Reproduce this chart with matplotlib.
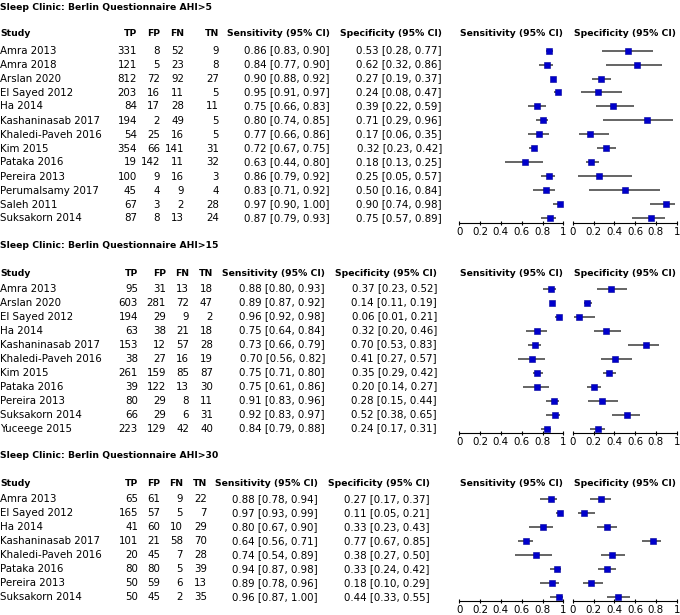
import matplotlib
matplotlib.use("Agg")
import matplotlib.pyplot as plt

plt.rcParams['font.family'] = ['DejaVu Sans']

# ---------------- data ----------------
titles = ["Sleep Clinic: Berlin Questionnaire AHI>5",
          "Sleep Clinic: Berlin Questionnaire AHI>15",
          "Sleep Clinic: Berlin Questionnaire AHI>30"]

studies1 = ["Amra 2013", "Amra 2018", "Arslan 2020", "El Sayed 2012", "Ha 2014",
            "Kashaninasab 2017", "Khaledi-Paveh 2016", "Kim 2015", "Pataka 2016",
            "Pereira 2013", "Perumalsamy 2017", "Saleh 2011", "Suksakorn 2014"]
tp1 = [331, 121, 812, 203, 84, 194, 54, 354, 19, 100, 45, 67, 87]
fp1 = [8, 5, 72, 16, 17, 2, 25, 66, 142, 9, 4, 3, 8]
fn1 = [52, 23, 92, 11, 28, 49, 16, 141, 11, 16, 9, 2, 13]
tn1 = [9, 8, 27, 5, 11, 5, 5, 31, 32, 3, 4, 28, 24]
sens1 = [0.86, 0.84, 0.90, 0.95, 0.75, 0.80, 0.77, 0.72, 0.63, 0.86, 0.83, 0.97, 0.87]
sens1_lo = [0.83, 0.77, 0.88, 0.91, 0.66, 0.74, 0.66, 0.67, 0.44, 0.79, 0.71, 0.90, 0.79]
sens1_hi = [0.90, 0.90, 0.92, 0.97, 0.83, 0.85, 0.86, 0.75, 0.80, 0.92, 0.92, 1.00, 0.93]
spec1 = [0.53, 0.62, 0.27, 0.24, 0.39, 0.71, 0.17, 0.32, 0.18, 0.25, 0.50, 0.90, 0.75]
spec1_lo = [0.28, 0.32, 0.19, 0.08, 0.22, 0.29, 0.06, 0.23, 0.13, 0.05, 0.16, 0.74, 0.57]
spec1_hi = [0.77, 0.86, 0.37, 0.47, 0.59, 0.96, 0.35, 0.42, 0.25, 0.57, 0.84, 0.98, 0.89]

studies2 = ["Amra 2013", "Arslan 2020", "El Sayed 2012", "Ha 2014", "Kashaninasab 2017",
            "Khaledi-Paveh 2016", "Kim 2015", "Pataka 2016", "Pereira 2013",
            "Suksakorn 2014", "Yuceege 2015"]
tp2 = [95, 603, 194, 63, 153, 38, 261, 39, 80, 66, 223]
fp2 = [31, 281, 29, 38, 12, 27, 159, 122, 29, 29, 129]
fn2 = [13, 72, 9, 21, 57, 16, 85, 13, 8, 6, 42]
tn2 = [18, 47, 2, 18, 28, 19, 87, 30, 11, 31, 40]
sens2 = [0.88, 0.89, 0.96, 0.75, 0.73, 0.70, 0.75, 0.75, 0.91, 0.92, 0.84]
sens2_lo = [0.80, 0.87, 0.92, 0.64, 0.66, 0.56, 0.71, 0.61, 0.83, 0.83, 0.79]
sens2_hi = [0.93, 0.92, 0.98, 0.84, 0.79, 0.82, 0.80, 0.86, 0.96, 0.97, 0.88]
spec2 = [0.37, 0.14, 0.06, 0.32, 0.70, 0.41, 0.35, 0.20, 0.28, 0.52, 0.24]
spec2_lo = [0.23, 0.11, 0.01, 0.20, 0.53, 0.27, 0.29, 0.14, 0.15, 0.38, 0.17]
spec2_hi = [0.52, 0.19, 0.21, 0.46, 0.83, 0.57, 0.42, 0.27, 0.44, 0.65, 0.31]

studies3 = ["Amra 2013", "El Sayed 2012", "Ha 2014", "Kashaninasab 2017",
            "Khaledi-Paveh 2016", "Pataka 2016", "Pereira 2013", "Suksakorn 2014"]
tp3 = [65, 165, 41, 101, 20, 80, 50, 50]
fp3 = [61, 57, 60, 21, 45, 80, 59, 45]
fn3 = [9, 5, 10, 58, 7, 5, 6, 2]
tn3 = [22, 7, 29, 70, 28, 39, 13, 35]
sens3 = [0.88, 0.97, 0.80, 0.64, 0.74, 0.94, 0.89, 0.96]
sens3_lo = [0.78, 0.93, 0.67, 0.56, 0.54, 0.87, 0.78, 0.87]
sens3_hi = [0.94, 0.99, 0.90, 0.71, 0.89, 0.98, 0.96, 1.00]
spec3 = [0.27, 0.11, 0.33, 0.77, 0.38, 0.33, 0.18, 0.44]
spec3_lo = [0.17, 0.05, 0.23, 0.67, 0.27, 0.24, 0.10, 0.33]
spec3_hi = [0.37, 0.21, 0.43, 0.85, 0.50, 0.42, 0.29, 0.55]

tick_values = [0, 0.2, 0.4, 0.6, 0.8, 1]
tick_labels = ["0", "0.2", "0.4", "0.6", "0.8", "1"]
col_headers = ["Study", "TP", "FP", "FN", "TN", "Sensitivity (95% CI)", "Specificity (95% CI)"]

sections = [
    dict(title=titles[0], studies=studies1, tp=tp1, fp=fp1, fn=fn1, tn=tn1,
         sens=sens1, sens_lo=sens1_lo, sens_hi=sens1_hi,
         spec=spec1, spec_lo=spec1_lo, spec_hi=spec1_hi),
    dict(title=titles[1], studies=studies2, tp=tp2, fp=fp2, fn=fn2, tn=tn2,
         sens=sens2, sens_lo=sens2_lo, sens_hi=sens2_hi,
         spec=spec2, spec_lo=spec2_lo, spec_hi=spec2_hi),
    dict(title=titles[2], studies=studies3, tp=tp3, fp=fp3, fn=fn3, tn=tn3,
         sens=sens3, sens_lo=sens3_lo, sens_hi=sens3_hi,
         spec=spec3, spec_lo=spec3_lo, spec_hi=spec3_hi),
]

# ---------------- layout (pixels) ----------------
W, H = 680, 615
FS = 7.4
FSB = 6.7
ROW = 14.0
layout = [
    dict(title_y=7, header_y=34, row0=50.5, cols=[137, 160, 184, 219, 330, 442]),
    dict(title_y=246, header_y=273.5, row0=288.5, cols=[138, 166, 189, 213, 325, 437]),
    dict(title_y=455.5, header_y=483, row0=498.7, cols=[138, 160, 183, 207, 318, 430]),
]
SENS_X0, SPEC_X0, PW = 459.3, 572.7, 104.0
AXIS_GAP = 4.5

fig = plt.figure(figsize=(W / 100, H / 100), dpi=100)


def fx(x):
    return x / W


def fy(y):
    return 1 - y / H


def fmt_ci(v, lo, hi):
    return f"{v:.2f} [{lo:.2f}, {hi:.2f}]"


for sec, lay in zip(sections, layout):
    n = len(sec["studies"])
    fig.text(fx(0), fy(lay["title_y"]), sec["title"], fontsize=FSB, fontweight="bold",
             ha="left", va="center")
    # headers
    fig.text(fx(0), fy(lay["header_y"]), col_headers[0], fontsize=FSB, fontweight="bold",
             ha="left", va="center")
    for hdr, cx in zip(col_headers[1:], lay["cols"]):
        fig.text(fx(cx), fy(lay["header_y"]), hdr, fontsize=FSB, fontweight="bold",
                 ha="right", va="center")
    for x0, hdr in ((SENS_X0, col_headers[5]), (SPEC_X0, col_headers[6])):
        fig.text(fx(x0 + PW / 2), fy(lay["header_y"]), hdr, fontsize=FSB,
                 fontweight="bold", ha="center", va="center")
    # rows
    for i in range(n):
        y = lay["row0"] + i * ROW
        vals = [str(sec["tp"][i]), str(sec["fp"][i]), str(sec["fn"][i]), str(sec["tn"][i]),
                fmt_ci(sec["sens"][i], sec["sens_lo"][i], sec["sens_hi"][i]),
                fmt_ci(sec["spec"][i], sec["spec_lo"][i], sec["spec_hi"][i])]
        fig.text(fx(0), fy(y), sec["studies"][i], fontsize=FS, ha="left", va="center")
        for v, cx in zip(vals, lay["cols"]):
            fig.text(fx(cx), fy(y), v, fontsize=FS, ha="right", va="center")
    # forest panels
    top_px = lay["row0"] - ROW / 2
    bot_px = lay["row0"] + (n - 1) * ROW + AXIS_GAP
    for x0, key in ((SENS_X0, "sens"), (SPEC_X0, "spec")):
        ax = fig.add_axes([fx(x0), fy(bot_px), PW / W, (bot_px - top_px) / H])
        ax.set_xlim(0, 1)
        ax.set_ylim(n - 1 + AXIS_GAP / ROW, -0.5)
        ys = list(range(n))
        ax.hlines(ys, sec[key + "_lo"], sec[key + "_hi"], color="#3a3a3a", lw=1.1,
                  clip_on=False, zorder=2)
        ax.plot(sec[key], ys, ls="none", marker="s", ms=4.8, mfc="#0000CC",
                mec="#00009A", mew=0.4, clip_on=False, zorder=3)
        for s in ("top", "left", "right"):
            ax.spines[s].set_visible(False)
        ax.spines["bottom"].set_linewidth(0.8)
        ax.set_yticks([])
        ax.set_xticks(tick_values)
        ax.set_xticklabels(tick_labels)
        ax.tick_params(axis="x", direction="inout", length=3, width=0.8, pad=1.5,
                       labelsize=FS)
        ax.patch.set_visible(False)

fig.savefig("out.png", dpi=100)
